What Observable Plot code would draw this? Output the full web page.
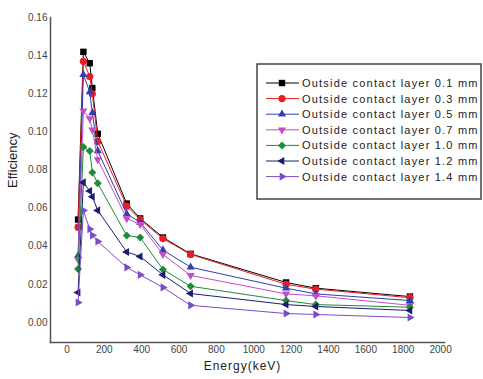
<!DOCTYPE html>
<html><head><meta charset="utf-8">
<script src="https://cdn.jsdelivr.net/npm/d3@7"></script>
<script src="https://cdn.jsdelivr.net/npm/@observablehq/plot@0.6"></script>
<style>
html,body{margin:0;padding:0;background:#fff;}
#wrap{position:relative;width:483px;height:379px;font-family:"Liberation Sans",Arial,sans-serif;}
#legend{position:absolute;left:256px;top:63px;}
</style>
</head><body>
<div id="wrap"></div>
<script>
const energies = [59.5, 88, 122, 136, 165, 320, 392, 514, 662, 1173, 1332, 1836];
const eff01 = [0.054, 0.142, 0.136, 0.123, 0.099, 0.0624, 0.0546, 0.0446, 0.036, 0.021, 0.018, 0.0136];
const eff03 = [0.050, 0.137, 0.129, 0.120, 0.095, 0.061, 0.054, 0.044, 0.0357, 0.020, 0.0175, 0.013];
const eff05 = [0.035, 0.130, 0.121, 0.110, 0.090, 0.057, 0.0525, 0.038, 0.029, 0.018, 0.015, 0.0115];
const eff07 = [0.033, 0.111, 0.107, 0.101, 0.0855, 0.0545, 0.0515, 0.0357, 0.0247, 0.015, 0.014, 0.009];
const eff10 = [0.028, 0.092, 0.090, 0.0787, 0.073, 0.0456, 0.0446, 0.0278, 0.019, 0.0115, 0.0094, 0.008];
const eff12 = [0.0157, 0.0735, 0.069, 0.066, 0.0588, 0.037, 0.0346, 0.025, 0.0152, 0.0094, 0.0084, 0.0063];
const eff14 = [0.0105, 0.0588, 0.049, 0.0457, 0.0425, 0.0289, 0.025, 0.0184, 0.009, 0.0047, 0.0042, 0.0026];
const seriesNames = ["Outside contact layer 0.1 mm","Outside contact layer 0.3 mm","Outside contact layer 0.5 mm","Outside contact layer 0.7 mm","Outside contact layer 1.0 mm","Outside contact layer 1.2 mm","Outside contact layer 1.4 mm"];
const seriesValues = [eff01, eff03, eff05, eff07, eff10, eff12, eff14];
const seriesColors = ["#000000","#ec1c24","#2e3eb4","#c04ec6","#1e8c3a","#1c1c70","#7a4cc8"];
const xTicks = [0,200,400,600,800,1000,1200,1400,1600,1800,2000];
const yTicks = [0,0.02,0.04,0.06,0.08,0.10,0.12,0.14,0.16];

function tri(angle){
  return {draw(ctx, size){
    const r = Math.sqrt(size/Math.PI)*1.3;
    for(let i=0;i<3;i++){
      const a = angle + i*2*Math.PI/3;
      const px = r*Math.cos(a), py = r*Math.sin(a);
      if(i===0) ctx.moveTo(px,py); else ctx.lineTo(px,py);
    }
    ctx.closePath();
  }};
}
const seriesSymbols = [d3.symbolSquare, d3.symbolCircle, tri(-Math.PI/2), tri(Math.PI/2), d3.symbolDiamond2, tri(Math.PI), tri(0)];
const R = 3.6;

const tables = seriesValues.map((vals,i)=>energies.map((e,j)=>({energy:e, eff:vals[j], s:seriesNames[i]})));
const marks = [];
tables.forEach((t,i)=>{
  marks.push(Plot.line(t,{x:"energy",y:"eff",stroke:seriesColors[i],strokeWidth:1}));
  marks.push(Plot.dot(t,{x:"energy",y:"eff",fill:seriesColors[i],stroke:"none",symbol:seriesSymbols[i],r:R}));
});

const chart = Plot.plot({
  width:483, height:379,
  marginLeft:50, marginRight:39, marginTop:17, marginBottom:37,
  style:{fontFamily:'"Liberation Sans",Arial,sans-serif', fontSize:"10px", color:"#444", background:"#fff"},
  x:{domain:[-88,2021]},
  y:{domain:[-0.0105,0.16]},
  marks:[
    Plot.axisX(xTicks,{tickSize:0, tickPadding:3, tickFormat:d=>String(d), label:null}),
    Plot.axisY(yTicks,{tickSize:0, tickPadding:3, tickFormat:d=>d.toFixed(2), label:null}),
    Plot.frame({anchor:"left", stroke:"#555", strokeWidth:1.5}),
    Plot.frame({anchor:"bottom", stroke:"#555", strokeWidth:1.5}),
    ...marks,
    Plot.text(["Efficiency"],{frameAnchor:"left", dx:-38, dy:8, rotate:-90, fontSize:13, fill:"#222"}),
    Plot.text(["Energy(keV)"],{frameAnchor:"bottom", dx:-5, dy:27, fontSize:12, fill:"#222"})
  ]
});
d3.select(chart).selectAll("text").filter(function(){return this.textContent==="Energy(keV)";}).attr("letter-spacing","1px");
document.getElementById("wrap").appendChild(chart);

// Legend
const lw = 226, lh = 137;
const leg = d3.select("#wrap").append("svg").attr("id","legend").attr("width",lw).attr("height",lh);
leg.append("rect").attr("x",1).attr("y",1).attr("width",lw-2).attr("height",lh-2).attr("fill","#fff").attr("stroke","#444").attr("stroke-width",1.5);
seriesNames.forEach((name,i)=>{
  const cy = 20 + i*15.6;
  const g = leg.append("g");
  g.append("line").attr("x1",10).attr("x2",43).attr("y1",cy).attr("y2",cy).attr("stroke",seriesColors[i]).attr("stroke-width",1);
  g.append("path").attr("transform",`translate(26,${cy})`).attr("d",d3.symbol(seriesSymbols[i], R*R*Math.PI)()).attr("fill",seriesColors[i]);
  g.append("text").attr("x",46).attr("y",cy).attr("dy","0.36em").attr("font-size",11).attr("letter-spacing","1.2px").attr("fill","#222").attr("font-family",'"Liberation Sans",Arial,sans-serif').text(name);
});
</script>
</body></html>
